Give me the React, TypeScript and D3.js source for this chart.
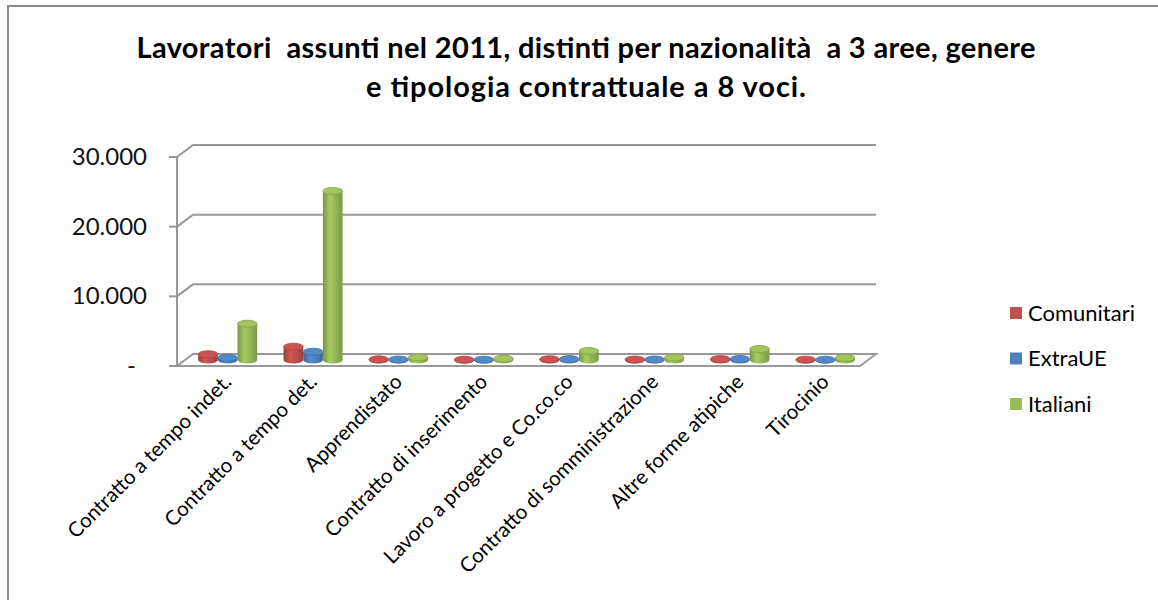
import * as d3 from "d3";
import { useRef, useEffect } from "react";

const categories = [
  "Contratto a tempo indet.",
  "Contratto a tempo det.",
  "Apprendistato",
  "Contratto di inserimento",
  "Lavoro a progetto e Co.co.co",
  "Contratto di somministrazione",
  "Altre forme atipiche",
  "Tirocinio",
];
const seriesNames = ["Comunitari", "ExtraUE", "Italiani"];
const seriesColors = ["#C0504D", "#4F81BD", "#9BBB59"];
const comunitari = [820, 1910, 90, 40, 110, 60, 130, 50];
const extraUE = [330, 1190, 70, 40, 130, 70, 160, 40];
const italiani = [5210, 24260, 380, 200, 1290, 370, 1580, 320];
const yTicks = [0, 10000, 20000, 30000];
const titleLines = [
  "Lavoratori  assunti nel 2011, distinti per nazionalità  a 3 aree, genere",
  "e tipologia contrattuale a 8 voci.",
];
const titleWidths = [899, 440];

export default function App() {
  const chartRef = useRef(null);
  const width = 1158;
  const height = 600;

  useEffect(() => {
    const svg = d3.select(chartRef.current);
    svg.selectAll("*").remove();
    const values = [comunitari, extraUE, italiani];

    // depth of the 3D floor
    const dx = 16;
    const dy = -12;

    // Scales (front plane)
    const x = d3.scaleBand().domain(categories).range([177, 860]);
    const y = d3.scaleLinear().domain([0, 30000]).range([366, 157]);
    const sub = d3.scaleBand().domain(seriesNames).range([-29.5, 29.5]);

    // outer frame
    svg
      .append("rect")
      .attr("x", 8)
      .attr("y", 6)
      .attr("width", 1200)
      .attr("height", 700)
      .attr("fill", "#fff")
      .attr("stroke", "#898989")
      .attr("stroke-width", 2);

    // Title
    svg
      .append("g")
      .selectAll("text")
      .data(titleLines)
      .join("text")
      .attr("x", 586)
      .attr("y", (d, i) => 58 + i * 39)
      .attr("text-anchor", "middle")
      .attr("textLength", (d, i) => titleWidths[i])
      .attr("lengthAdjust", "spacing")
      .style("white-space", "pre")
      .attr("font-family", "Lato, 'Open Sans', sans-serif")
      .attr("font-weight", "bold")
      .attr("font-size", 29)
      .attr("fill", "#000")
      .text((d) => d);

    // Gradients
    const defs = svg.append("defs");
    seriesColors.forEach((c, i) => {
      const g = defs
        .append("linearGradient")
        .attr("id", `cyl-${i}`)
        .attr("x1", "0")
        .attr("x2", "1")
        .attr("y1", "0")
        .attr("y2", "0");
      g.append("stop").attr("offset", "0%").attr("stop-color", d3.color(c).darker(0.7));
      g.append("stop").attr("offset", "35%").attr("stop-color", d3.color(c).brighter(0.25));
      g.append("stop").attr("offset", "100%").attr("stop-color", d3.color(c).darker(0.6));
    });

    const grid = svg.append("g").attr("stroke", "#989898").attr("stroke-width", 2).attr("fill", "none");

    // Gridlines on back wall + diagonals
    yTicks.forEach((t) => {
      if (t > 0) {
        grid
          .append("path")
          .attr("d", `M${x.range()[0]},${y(t)} L${x.range()[0] + dx},${y(t) + dy} L${x.range()[1] + dx},${y(t) + dy}`);
      }
      grid
        .append("line")
        .attr("x1", x.range()[0] - 8)
        .attr("x2", x.range()[0])
        .attr("y1", y(t))
        .attr("y2", y(t));
    });

    // Floor
    grid
      .append("path")
      .attr(
        "d",
        `M${x.range()[0]},${y(0)} L${x.range()[1]},${y(0)} L${x.range()[1] + dx},${y(0) + dy} L${x.range()[0] + dx},${y(0) + dy} Z`,
      );

    // Vertical axis
    grid
      .append("line")
      .attr("x1", x.range()[0])
      .attr("x2", x.range()[0])
      .attr("y1", y(30000))
      .attr("y2", y(0));

    // Y tick labels
    svg
      .append("g")
      .selectAll("text")
      .data(yTicks)
      .join("text")
      .attr("x", (d) => (d === 0 ? 136 : 147))
      .attr("y", (d) => y(d) + 8)
      .attr("text-anchor", "end")
      .attr("font-family", "Lato, sans-serif")
      .attr("font-size", 24)
      .attr("fill", "#111")
      .text((d) => (d === 0 ? "-" : d3.format(",")(d).replace(/,/g, ".")));

    // Cylinders
    const rx = sub.bandwidth() / 2;
    const ry = 3.5;
    const bars = svg.append("g");
    categories.forEach((cat, ci) => {
      seriesNames.forEach((s, si) => {
        const v = values[si][ci];
        const cx = x(cat) + x.bandwidth() / 2 + dx / 2 + sub(s) + rx;
        const yB = y(0) + dy / 2;
        const yT = y(v) + dy / 2;
        const g = bars.append("g");
        g.append("title").text(`${cat}, ${s}: ${v}`);
        g.append("path")
          .attr(
            "d",
            `M${cx - rx},${yT} L${cx - rx},${yB} A${rx},${ry} 0 0 0 ${cx + rx},${yB} L${cx + rx},${yT} Z`,
          )
          .attr("fill", `url(#cyl-${si})`);
        g.append("ellipse")
          .attr("cx", cx)
          .attr("cy", yT)
          .attr("rx", rx)
          .attr("ry", ry)
          .attr("fill", d3.color(seriesColors[si]).brighter(0.15))
          .attr("stroke", d3.color(seriesColors[si]).darker(0.4))
          .attr("stroke-width", 0.8);
      });
    });

    // X labels
    svg
      .append("g")
      .selectAll("text")
      .data(categories)
      .join("text")
      .attr("transform", (d) => `translate(${x(d) + x.bandwidth() / 2 + 13},${383}) rotate(-45)`)
      .attr("text-anchor", "end")
      .attr("font-family", "Lato, sans-serif")
      .attr("font-size", 20.5)
      .attr("fill", "#000")
      .text((d) => d);

    // Legend
    const leg = svg
      .append("g")
      .selectAll("g")
      .data(seriesNames)
      .join("g")
      .attr("transform", (d, i) => `translate(1010,${313 + i * 45.5})`);
    leg
      .append("rect")
      .attr("x", 0)
      .attr("y", -6)
      .attr("width", 12)
      .attr("height", 12)
      .attr("fill", (d, i) => seriesColors[i]);
    leg
      .append("text")
      .attr("x", 18)
      .attr("y", 7.5)
      .attr("font-family", "Lato, sans-serif")
      .attr("font-size", 22)
      .attr("fill", "#000")
      .text((d) => d);
  }, []);

  return (
    <svg
      ref={chartRef}
      width={width}
      height={height}
      viewBox={`0 0 ${width} ${height}`}
      style={{ position: "absolute", left: 0, top: 0, display: "block" }}
    ></svg>
  );
}
